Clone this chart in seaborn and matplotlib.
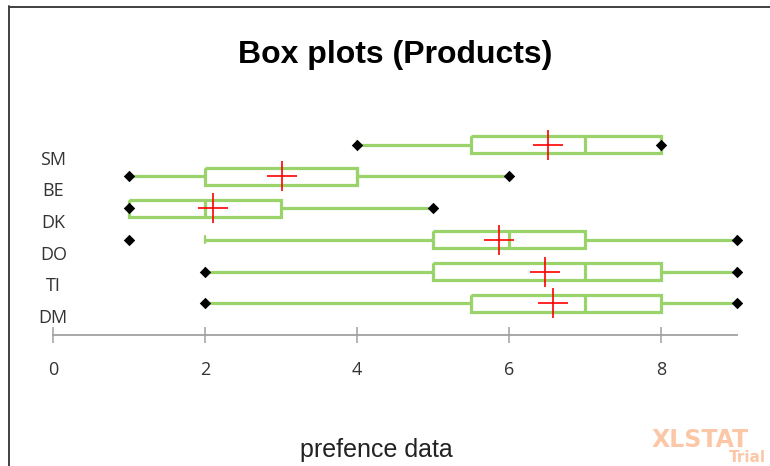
import numpy as np
import pandas as pd
import matplotlib
matplotlib.use("Agg")
import matplotlib.pyplot as plt
from matplotlib.lines import Line2D
import seaborn as sns

# ---- data ----
products = ["SM", "BE", "DK", "DO", "TI", "DM"]
minimum = [4, 1, 1, 1, 2, 2]
whisker_low = [4, 1, 1, 2, 2, 2]
q1 = [5.5, 2, 1, 5, 5, 5.5]
median = [7, 4, 2, 6, 7, 7]
q3 = [8, 4, 3, 7, 8, 8]
whisker_high = [8, 6, 5, 9, 9, 9]
maximum = [8, 6, 5, 9, 9, 9]
mean = [6.51, 3.01, 2.10, 5.86, 6.47, 6.58]
x_ticks = [0, 2, 4, 6, 8]

title = "Box plots (Products)"
x_label = "prefence data"

sns.set_style("white")

green = "#9BD36B"
W, H = 770, 466
fig = plt.figure(figsize=(W / 100, H / 100), dpi=100)
ax = fig.add_axes([53.3 / W, (H - 335) / H, (737.3 - 53.3) / W, (335 - 113) / H])

pos = np.arange(len(products))
df = pd.DataFrame({"product": products, "pos": pos, "minimum": minimum,
                   "maximum": maximum, "mean": mean})

stats = [dict(label=p, whislo=wl, q1=a, med=m, q3=b, whishi=wh, fliers=[])
         for p, wl, a, m, b, wh in zip(products, whisker_low, q1, median, q3, whisker_high)]
lp = dict(color=green, linewidth=2.3, solid_joinstyle="miter", solid_capstyle="butt")
kw = dict(positions=pos, widths=0.54, showfliers=False, showmeans=False,
          boxprops=lp, whiskerprops=lp, capprops=dict(color=green, linewidth=1.6),
          medianprops=lp, capwidths=0.22, manage_ticks=False)
try:
    ax.bxp(stats, orientation="horizontal", **kw)
except TypeError:
    ax.bxp(stats, vert=False, **kw)

# min / max diamonds
sns.scatterplot(data=df, x="minimum", y="pos", marker="D", color="black", s=34,
                linewidth=0, ax=ax, legend=False, zorder=5, clip_on=False)
sns.scatterplot(data=df, x="maximum", y="pos", marker="D", color="black", s=34,
                linewidth=0, ax=ax, legend=False, zorder=5, clip_on=False)
# means
sns.scatterplot(data=df, x="mean", y="pos", marker="+", color="#FF0000", s=470,
                linewidth=1.2, ax=ax, legend=False, zorder=6, clip_on=False)

ax.set_xlim(0, 9)
ax.set_ylim(6, -1)
ax.set_xticks(x_ticks)
ax.set_xticklabels([str(t) for t in x_ticks], fontsize=13, family="Open Sans",
                   color="#333333")
ax.set_yticks([])
ax.set_xlabel("")
ax.set_ylabel("")
for s in ["left", "right", "top"]:
    ax.spines[s].set_visible(False)
ax.spines["bottom"].set_color("#A0A0A0")
ax.spines["bottom"].set_linewidth(1.3)
ax.tick_params(axis="x", direction="inout", length=11.5, width=1.1, color="#A0A0A0",
               pad=13, bottom=True)
ax.patch.set_alpha(0)

# category labels (Excel places them offset below the boxes)
for p, y in zip(products, pos):
    ax.text(0.0, y + 0.47, p, ha="center", va="center", fontsize=13,
            family="Open Sans", color="#333333")

fig.text(395 / W, 1 - 63 / H, title, ha="center", va="baseline", fontsize=23,
         fontweight="bold", family="Liberation Sans", color="black")
fig.text(376 / W, 1 - 450 / H, x_label, ha="center", va="center", fontsize=18,
         family="Liberation Sans", color="#222222")

# watermark
fig.text(652 / W, 1 - 440 / H, "XLSTAT", ha="left", va="center", fontsize=17,
         fontweight="bold", family="DejaVu Sans", color="#FCC7A6")
fig.text(766 / W, 1 - 458 / H, "Trial", ha="right", va="center", fontsize=11,
         fontweight="bold", family="DejaVu Sans", color="#FCC7A6")

# outer frame (left and top)
fig.add_artist(Line2D([8.5 / W, 8.5 / W], [0, 1 - 6 / H], transform=fig.transFigure,
                      color="#404040", linewidth=1.4))
fig.add_artist(Line2D([8.5 / W, 1], [1 - 6.5 / H, 1 - 6.5 / H], transform=fig.transFigure,
                      color="#404040", linewidth=1.4))

fig.savefig("out.png", dpi=100)
